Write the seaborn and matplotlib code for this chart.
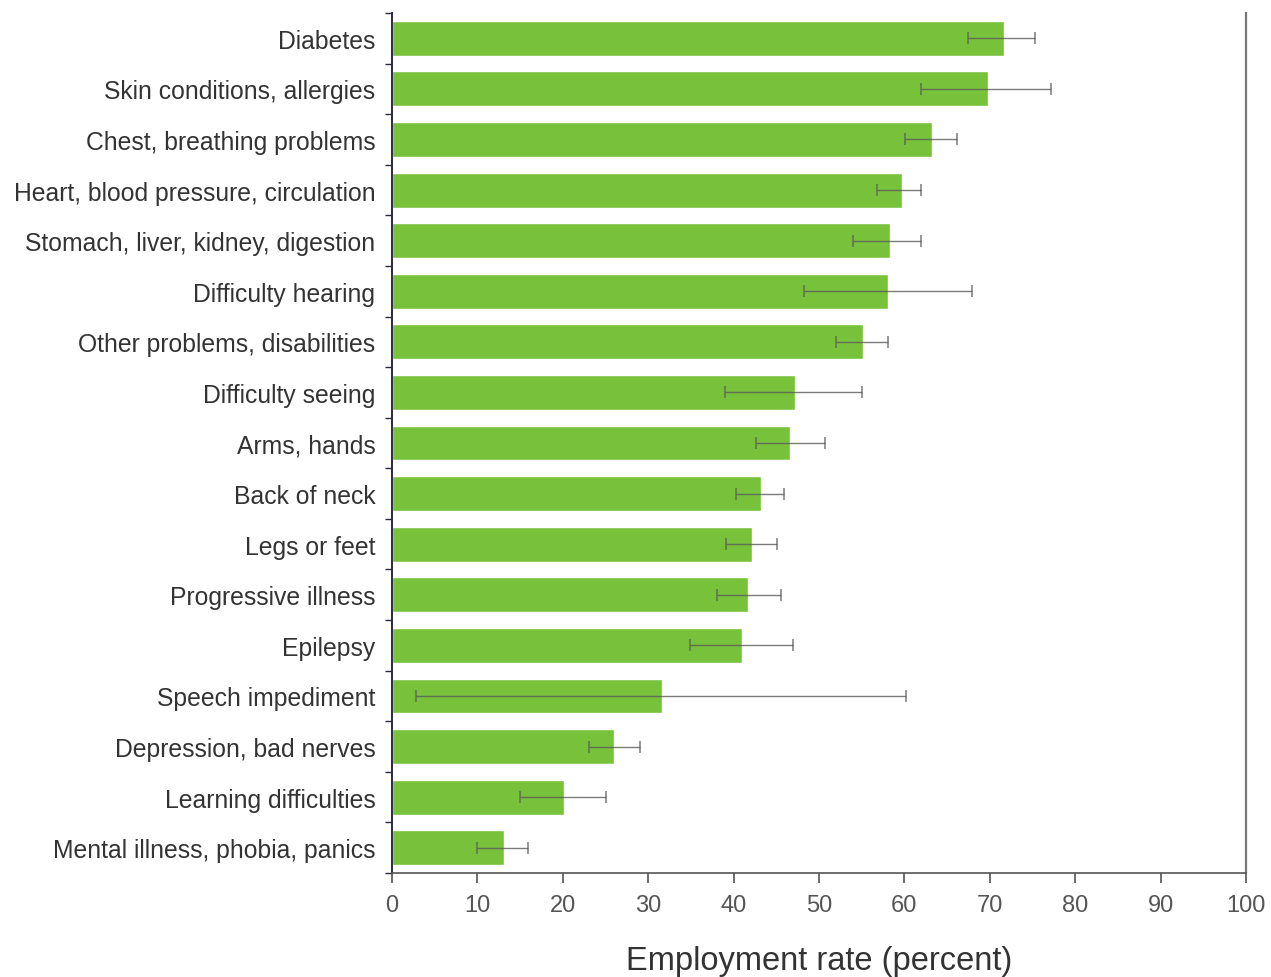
import matplotlib
matplotlib.use("Agg")
import matplotlib.pyplot as plt
import seaborn as sns
import pandas as pd
import numpy as np

conditions = [
    "Diabetes",
    "Skin conditions, allergies",
    "Chest, breathing problems",
    "Heart, blood pressure, circulation",
    "Stomach, liver, kidney, digestion",
    "Difficulty hearing",
    "Other problems, disabilities",
    "Difficulty seeing",
    "Arms, hands",
    "Back of neck",
    "Legs or feet",
    "Progressive illness",
    "Epilepsy",
    "Speech impediment",
    "Depression, bad nerves",
    "Learning difficulties",
    "Mental illness, phobia, panics",
]
rate = [71.7, 69.8, 63.2, 59.7, 58.3, 58.1, 55.2, 47.2, 46.6, 43.2, 42.2, 41.7, 41.0, 31.6, 26.0, 20.1, 13.1]
ci_low = [67.4, 61.9, 60.1, 56.8, 54.0, 48.2, 52.0, 39.0, 42.6, 40.3, 39.1, 38.1, 34.9, 2.8, 23.1, 15.0, 10.0]
ci_high = [75.3, 77.2, 66.2, 61.9, 61.9, 67.9, 58.1, 55.0, 50.7, 45.9, 45.1, 45.6, 47.0, 60.2, 29.0, 25.1, 15.9]
x_ticks = [0, 10, 20, 30, 40, 50, 60, 70, 80, 90, 100]

sns.set_theme(style="white")
plt.rcParams["font.family"] = ["Liberation Sans", "DejaVu Sans"]

df = pd.DataFrame({"condition": conditions, "rate": rate})

fig = plt.figure(figsize=(12.71, 9.78), dpi=100)
ax = fig.add_axes([0.3084, 0.1063, 0.6719, 0.8794])

sns.barplot(data=df, x="rate", y="condition", orient="h", color="#77c13b",
            saturation=1, width=0.69, ax=ax, errorbar=None)

ypos = np.arange(len(conditions))
rate_a = np.array(rate)
xerr = np.vstack([rate_a - np.array(ci_low), np.array(ci_high) - rate_a])
ax.errorbar(rate_a, ypos, xerr=xerr, fmt="none", ecolor="#5a5a5a",
            elinewidth=1.0, capsize=4.5, capthick=1.1, alpha=0.8)

ax.set_xlim(0, 100)
ax.set_ylim(len(conditions) - 0.5, -0.5)
ax.set_xticks(x_ticks)
ax.set_xticklabels([str(t) for t in x_ticks], fontsize=17, color="#555555")
ax.set_yticks(ypos)
ax.set_yticklabels(conditions, fontsize=17.8, color="#333333")
ax.set_yticks(np.arange(-0.5, len(conditions) + 0.5, 1), minor=True)

ax.tick_params(axis="y", which="major", length=0, pad=12)
ax.tick_params(axis="y", which="minor", left=True, length=5, width=1.0, color="#2a2a40")
ax.tick_params(axis="x", which="major", bottom=True, length=7, width=1.1,
               color="#444444", pad=8)

ax.set_ylabel("")
ax.set_xlabel("Employment rate (percent)", fontsize=23.5, color="#333333", labelpad=21)

ax.spines["top"].set_visible(False)
ax.spines["left"].set_visible(True)
ax.spines["right"].set_visible(True)
ax.spines["bottom"].set_visible(True)
ax.spines["left"].set_color("#2a2a40")
ax.spines["left"].set_linewidth(1.4)
ax.spines["bottom"].set_color("#555555")
ax.spines["bottom"].set_linewidth(1.2)
ax.spines["right"].set_color("#777777")
ax.spines["right"].set_linewidth(1.6)

fig.savefig("out.png", dpi=100)
